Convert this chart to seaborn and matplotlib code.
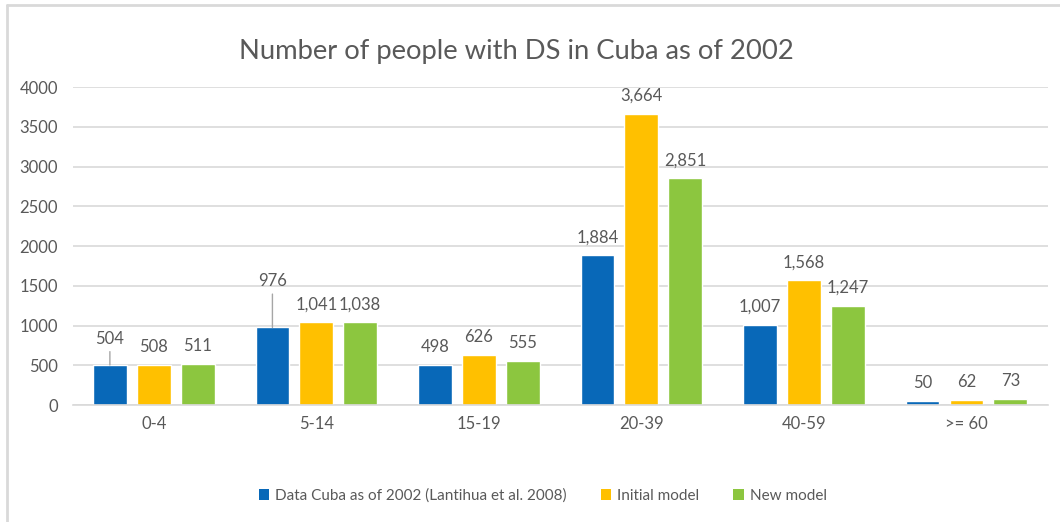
import matplotlib
matplotlib.use("Agg")
import matplotlib.pyplot as plt
from matplotlib.lines import Line2D
from matplotlib.patches import Patch
import seaborn as sns
import pandas as pd

# Age groups and the three series
age_groups = ["0-4", "5-14", "15-19", "20-39", "40-59", ">= 60"]
series_names = ["Data Cuba as of 2002 (Lantihua et al. 2008)", "Initial model", "New model"]
data_cuba = [504, 976, 498, 1884, 1007, 50]
initial_model = [508, 1041, 626, 3664, 1568, 62]
new_model = [511, 1038, 555, 2851, 1247, 73]
y_ticks = [0, 500, 1000, 1500, 2000, 2500, 3000, 3500, 4000]

colors = ["#0868B8", "#FFC000", "#8CC63F"]
text_color = "#595959"
grid_color = "#D9D9D9"

df = pd.DataFrame({
    "age": age_groups * 3,
    "series": [series_names[0]] * 6 + [series_names[1]] * 6 + [series_names[2]] * 6,
    "count": data_cuba + initial_model + new_model,
})

sns.set_theme(style="white")
plt.rcParams["font.family"] = ["Lato", "DejaVu Sans"]

fig = plt.figure(figsize=(10.6, 5.22), dpi=100)
ax = fig.add_axes([0.0684, 0.2241, 0.92, 0.6092])

sns.barplot(data=df, x="age", y="count", hue="series", order=age_groups,
            hue_order=series_names, palette=colors, width=0.81, gap=0.23,
            saturation=1, ax=ax, legend=False)

ax.set_ylim(0, 4000)
ax.set_xlim(-0.5, len(age_groups) - 0.5)
ax.set_yticks(y_ticks)
ax.set_yticklabels([str(v) for v in y_ticks])
ax.yaxis.grid(True, color=grid_color, linewidth=1.2)
ax.set_axisbelow(True)
for side in ["top", "right", "left"]:
    ax.spines[side].set_visible(False)
ax.spines["bottom"].set_color(grid_color)
ax.spines["bottom"].set_linewidth(1.2)
ax.tick_params(axis="both", length=0, labelsize=12, colors=text_color)
ax.tick_params(axis="y", pad=10.5)
ax.tick_params(axis="x", pad=8)
ax.set_xlabel("")
ax.set_ylabel("")

# Value labels; two blue labels sit higher with a leader line to the bar
raised = {(0, 0): 26, (0, 1): 46}
for s_idx, container in enumerate(ax.containers):
    for g_idx, bar in enumerate(container):
        val = bar.get_height()
        xc = bar.get_x() + bar.get_width() / 2
        label = f"{int(round(val)):,}"
        if (s_idx, g_idx) in raised:
            off = raised[(s_idx, g_idx)]
            ax.annotate(label, xy=(xc, val), xytext=(0, off), textcoords="offset pixels",
                        ha="center", va="center", fontsize=12, color=text_color,
                        arrowprops=dict(arrowstyle="-", color="#A6A6A6", lw=1,
                                        shrinkA=1, shrinkB=0))
        else:
            ax.annotate(label, xy=(xc, val), xytext=(0, 18), textcoords="offset pixels",
                        ha="center", va="center", fontsize=12, color=text_color)

fig.text(0.487, 0.902, "Number of people with DS in Cuba as of 2002", ha="center",
         va="center", fontsize=19.7, color=text_color)

handles = [Patch(facecolor=c, edgecolor="none") for c in colors]
fig.legend(handles, series_names, loc="center", bbox_to_anchor=(0.512, 0.05), ncol=3,
           frameon=False, fontsize=11, labelcolor=text_color, handlelength=0.7,
           handleheight=0.7, handletextpad=0.4, columnspacing=2.2)

# Light frame along the top and left edges of the chart
fig.add_artist(Line2D([0.0062, 0.0062], [0, 0.99], transform=fig.transFigure,
                      color=grid_color, lw=2))
fig.add_artist(Line2D([0.0062, 1.0], [0.99, 0.99], transform=fig.transFigure,
                      color=grid_color, lw=2))

fig.savefig("out.png", dpi=100, facecolor="white")
